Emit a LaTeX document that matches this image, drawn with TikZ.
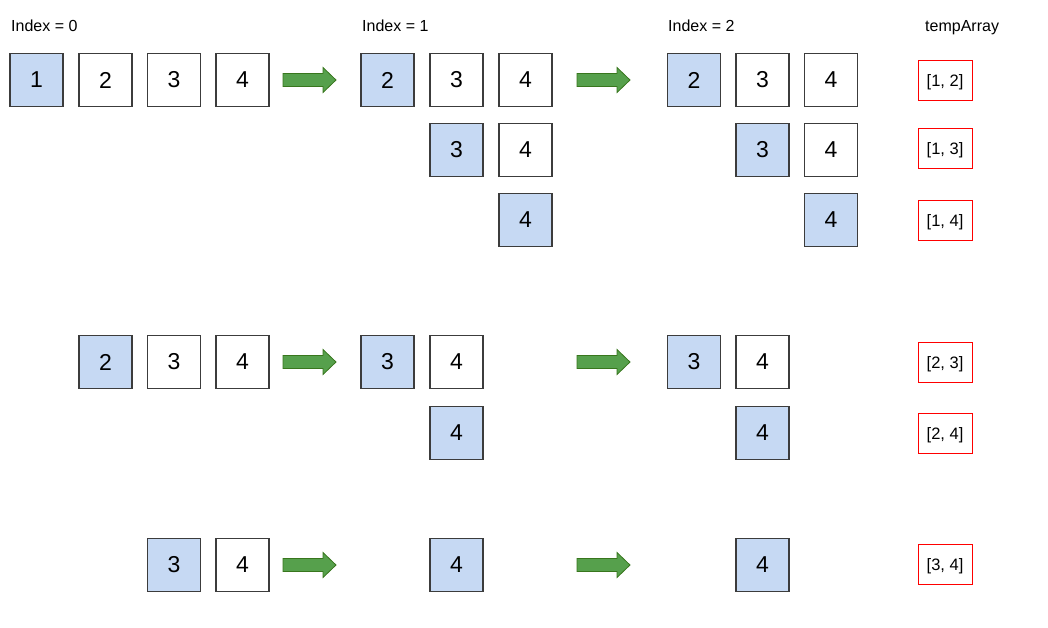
\documentclass[tikz,border=0pt]{standalone}
\usepackage{fontspec}
\setmainfont{Liberation Sans}
\definecolor{cellblue}{RGB}{198,217,243}
\definecolor{cellborder}{RGB}{60,60,60}
\definecolor{arrowfill}{RGB}{86,160,76}
\definecolor{arrowedge}{RGB}{56,118,29}
\definecolor{tempred}{RGB}{255,0,0}
\begin{document}
\begin{tikzpicture}[x=1pt,y=-1pt,
  cell/.style={draw=cellborder, line width=1.4pt, fill=white, minimum size=53pt, inner sep=0pt, font=\fontsize{23}{23}\selectfont},
  hcell/.style={cell, fill=cellblue},
  temp/.style={draw=tempred, line width=1pt, fill=white, minimum width=54pt, minimum height=40pt, inner sep=0pt, text height=14pt, text depth=2pt, font=\fontsize{16.5}{16.5}\selectfont},
  lbl/.style={anchor=base west, inner sep=0pt, font=\fontsize{16}{16}\selectfont},
  garrow/.pic={\draw[fill=arrowfill, draw=arrowedge, line width=0.8pt] (0,-6.5) -- (40,-6.5) -- (40,-12.5) -- (53,0) -- (40,12.5) -- (40,6.5) -- (0,6.5) -- cycle;}
]
\useasboundingbox (0,0) rectangle (1048,627);
% labels
\node[lbl] (l0) at (11,31) {Index = 0};
\node[lbl] (l1) at (362,31) {Index = 1};
\node[lbl] (l2) at (668,31) {Index = 2};
\node[lbl] (lt) at (925,31) {tempArray};
% row 1
\node[hcell] (a1) at (36.5,80) {1};
\node[cell] (a2) at (105.5,80) {2};
\node[cell] (a3) at (174,80) {3};
\node[cell] (a4) at (242.5,80) {4};
\pic (ar1) at (283,80) {garrow};
\node[hcell] (a5) at (387.5,80) {2};
\node[cell] (a6) at (456.5,80) {3};
\node[cell] (a7) at (525.5,80) {4};
\pic (ar2) at (577,80) {garrow};
\node[hcell] (a8) at (694,80) {2};
\node[cell] (a9) at (762.5,80) {3};
\node[cell] (a10) at (831,80) {4};
\node[temp] (t1) at (945,80.5) {[1, 2]};
% row 2
\node[hcell] (b6) at (456.5,150) {3};
\node[cell] (b7) at (525.5,150) {4};
\node[hcell] (b9) at (762.5,150) {3};
\node[cell] (b10) at (831,150) {4};
\node[temp] (t2) at (945,148.5) {[1, 3]};
% row 3
\node[hcell] (c7) at (525.5,220) {4};
\node[hcell] (c10) at (831,220) {4};
\node[temp] (t3) at (945,220) {[1, 4]};
% row 4
\node[hcell] (d2) at (105.5,362) {2};
\node[cell] (d3) at (174,362) {3};
\node[cell] (d4) at (242.5,362) {4};
\pic (ar3) at (283,362) {garrow};
\node[hcell] (d5) at (387.5,362) {3};
\node[cell] (d6) at (456.5,362) {4};
\pic (ar4) at (577,362) {garrow};
\node[hcell] (d8) at (694,362) {3};
\node[cell] (d9) at (762.5,362) {4};
\node[temp] (t4) at (945,362) {[2, 3]};
% row 5
\node[hcell] (e6) at (456.5,433) {4};
\node[hcell] (e9) at (762.5,433) {4};
\node[temp] (t5) at (945,433) {[2, 4]};
% row 6
\node[hcell] (f3) at (174,565) {3};
\node[cell] (f4) at (242.5,565) {4};
\pic (ar5) at (283,565) {garrow};
\node[hcell] (f6) at (456.5,565) {4};
\pic (ar6) at (577,565) {garrow};
\node[hcell] (f9) at (762.5,565) {4};
\node[temp] (t6) at (945,564) {[3, 4]};
\end{tikzpicture}
\end{document}
